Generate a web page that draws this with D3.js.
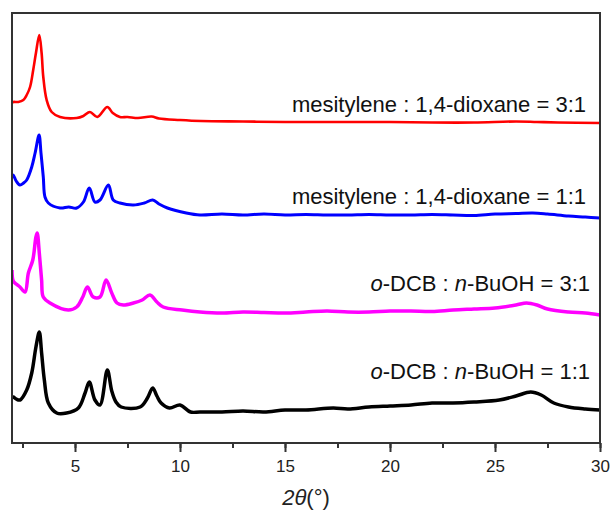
<!DOCTYPE html>
<meta charset="utf-8">
<head>
    <script type="text/javascript" src="https://cdn.jsdelivr.net/npm/d3@7/dist/d3.min.js"></script>
    <style>
        body { margin: 0; background: #fff; }
        text { font-family: Arial, "Liberation Sans", sans-serif; }
    </style>
    <title>XRD patterns</title>
</head>
<body>
<div id="chart"></div>
<script>
    // 2theta (deg) and stacked intensity (a.u.)
    var red_x = [2.0, 2.06, 2.3, 2.54, 2.7, 2.86, 3.01, 3.14, 3.3, 3.41, 3.49, 3.65, 3.89, 4.29, 5.08, 5.4, 5.71, 6.06, 6.54, 6.8, 7.14, 7.5, 8.0, 8.65, 9.0, 10, 11, 13, 15, 18, 20, 22, 24, 26, 27, 28, 30];
    var red_y = [340, 341, 341, 343, 348, 356, 373, 390, 408, 390, 366, 343, 331, 326, 325, 327, 331, 326, 336, 330, 326, 326, 325, 326.5, 324.5, 323, 322, 321.5, 321, 321, 321, 320.5, 320.5, 321.5, 321, 320.5, 320];

    var blue_x = [2.0, 2.06, 2.2, 2.38, 2.55, 2.7, 2.94, 3.1, 3.29, 3.38, 3.49, 3.57, 3.73, 4.29, 4.7, 5.08, 5.4, 5.68, 5.95, 6.19, 6.59, 6.82, 7.14, 7.78, 8.3, 8.7, 9.0, 9.4, 10.3, 10.95, 12, 13, 14, 15, 16, 17, 18, 19, 20, 21, 22, 23, 24, 25, 26, 26.8, 27.5, 28.5, 29.3, 30];
    var blue_y = [265, 268, 262, 258, 260, 263, 276, 290, 308, 290, 266, 246, 240, 235, 236, 235, 241, 255, 241, 243, 258, 243, 240, 238, 240, 243, 239, 235, 230, 228, 229, 228, 229, 228, 228.5, 228, 228, 228.5, 228, 228, 228.5, 228, 227.5, 229, 229.5, 230, 229, 227, 226, 225];

    var magenta_x = [2.0, 2.06, 2.2, 2.38, 2.62, 2.78, 2.99, 3.14, 3.2, 3.3, 3.41, 3.49, 3.81, 4.68, 5.08, 5.37, 5.59, 5.87, 6.19, 6.48, 6.75, 7.0, 7.3, 7.78, 8.2, 8.57, 8.9, 9.2, 10.1, 10.95, 12, 13, 14, 15, 16, 17, 18, 19, 20, 21, 22, 23, 24, 25, 26, 26.5, 27, 27.5, 28.5, 29.3, 30];
    var magenta_y = [173, 162, 159, 156, 151, 170, 183, 206, 210, 190, 163, 146, 140, 133, 136, 146, 156, 146, 146, 163, 150, 140, 138, 140, 143, 148, 141, 136, 133, 131, 130, 131, 130.5, 130, 131, 132, 131, 131, 132, 132, 131.5, 133, 134, 135, 138, 140, 138, 134, 131, 130, 128];

    var black_x = [2.0, 2.06, 2.2, 2.38, 2.7, 2.94, 3.14, 3.3, 3.41, 3.54, 3.73, 4.13, 4.6, 5.16, 5.48, 5.68, 5.95, 6.19, 6.54, 6.75, 6.95, 7.2, 8.1, 8.45, 8.7, 8.9, 9.1, 9.5, 10.0, 10.5, 10.95, 12, 13, 14, 15, 16, 17.3, 18, 19, 20, 21, 22, 23, 24, 25.2, 26, 26.7, 27.2, 27.8, 28.5, 29.3, 30];
    var black_y = [45, 46, 44, 43, 53, 70, 96, 111, 90, 63, 40, 30, 30, 35, 50, 61, 43, 38, 73, 52, 41, 36, 36, 45, 55, 47, 40, 35, 38, 31, 31, 31, 32, 31, 33, 33, 35, 34, 36, 37, 38, 40, 40, 41, 43, 47, 51, 48, 40, 36, 34, 33];

    var series_names = ["mesitylene : 1,4-dioxane = 3:1", "mesitylene : 1,4-dioxane = 1:1", "o-DCB : n-BuOH = 3:1", "o-DCB : n-BuOH = 1:1"];
    var series_colors = ["#ff0000", "#0000ff", "#ff00ff", "#000000"];
    var tick_values = [5, 10, 15, 20, 25, 30];

    var width = 613, height = 515;
    var margin = {top: 13, right: 13, bottom: 72, left: 12};

    var svg = d3.select("#chart").append("svg")
        .attr("width", width)
        .attr("height", height);

    var x = d3.scaleLinear().domain([2, 30]).range([margin.left, width - margin.right]);
    var y = d3.scaleLinear().domain([0, 430]).range([height - margin.bottom, margin.top]);

    var all_series = [
        {x: red_x, y: red_y, w: 2.6},
        {x: blue_x, y: blue_y, w: 3},
        {x: magenta_x, y: magenta_y, w: 3.5},
        {x: black_x, y: black_y, w: 3.5}
    ];

    var line = d3.line()
        .x(function(d) { return x(d[0]); })
        .y(function(d) { return y(d[1]); })
        .curve(d3.curveCatmullRom.alpha(0.5));

    svg.append("clipPath").attr("id", "clip")
        .append("rect").attr("x", x(2)).attr("y", y(430))
        .attr("width", x(30) - x(2)).attr("height", y(0) - y(430));

    all_series.forEach(function(s, i) {
        var pts = s.x.map(function(v, j) { return [v, s.y[j]]; });
        svg.append("path")
            .datum(pts)
            .attr("d", line)
            .attr("clip-path", "url(#clip)")
            .attr("fill", "none")
            .attr("stroke", series_colors[i])
            .attr("stroke-width", s.w)
            .attr("stroke-linejoin", "round");
    });

    // frame
    svg.append("rect")
        .attr("x", x(2)).attr("y", y(430))
        .attr("width", x(30) - x(2)).attr("height", y(0) - y(430))
        .attr("fill", "none").attr("stroke", "#333").attr("stroke-width", 2);

    // bottom axis, major + minor ticks
    var axis = svg.append("g").attr("transform", "translate(0," + y(0) + ")");
    axis.call(d3.axisBottom(x).tickValues(d3.range(2.5, 30.1, 2.5)).tickSize(5).tickFormat(""))
        .call(function(g) { g.select(".domain").remove(); });
    axis.selectAll("line").attr("stroke", "#333").attr("stroke-width", 2);
    var axis2 = svg.append("g").attr("transform", "translate(0," + y(0) + ")");
    axis2.call(d3.axisBottom(x).tickValues(tick_values).tickSize(9).tickPadding(8))
        .call(function(g) { g.select(".domain").remove(); });
    axis2.selectAll("line").attr("stroke", "#333").attr("stroke-width", 2);
    axis2.selectAll("text")
        .attr("font-family", "Arial, 'Liberation Sans', sans-serif")
        .attr("font-size", 17).attr("fill", "#222");

    // axis title
    var title = svg.append("text")
        .attr("x", 306).attr("y", 505)
        .attr("text-anchor", "middle")
        .attr("font-size", 22).attr("fill", "#222");
    title.append("tspan").attr("font-style", "italic").text("2\u03b8");
    title.append("tspan").text("(\u00b0)");

    // series labels
    var label_pos = [[586, 112], [586, 204], [590, 291], [590, 379]];
    svg.selectAll(".lbl").data(series_names).enter().append("text")
        .attr("class", "lbl")
        .attr("x", function(d, i) { return label_pos[i][0]; })
        .attr("y", function(d, i) { return label_pos[i][1]; })
        .attr("text-anchor", "end")
        .attr("font-size", 22).attr("fill", "#111")
        .each(function(d) {
            var t = d3.select(this);
            if (d.indexOf("o-DCB") === 0) {
                var r = d.split(" = ")[1];
                t.append("tspan").attr("font-style", "italic").text("o");
                t.append("tspan").text("-DCB : ");
                t.append("tspan").attr("font-style", "italic").text("n");
                t.append("tspan").text("-BuOH = " + r);
            } else {
                t.text(d);
            }
        });
</script>
</body>
</html>
